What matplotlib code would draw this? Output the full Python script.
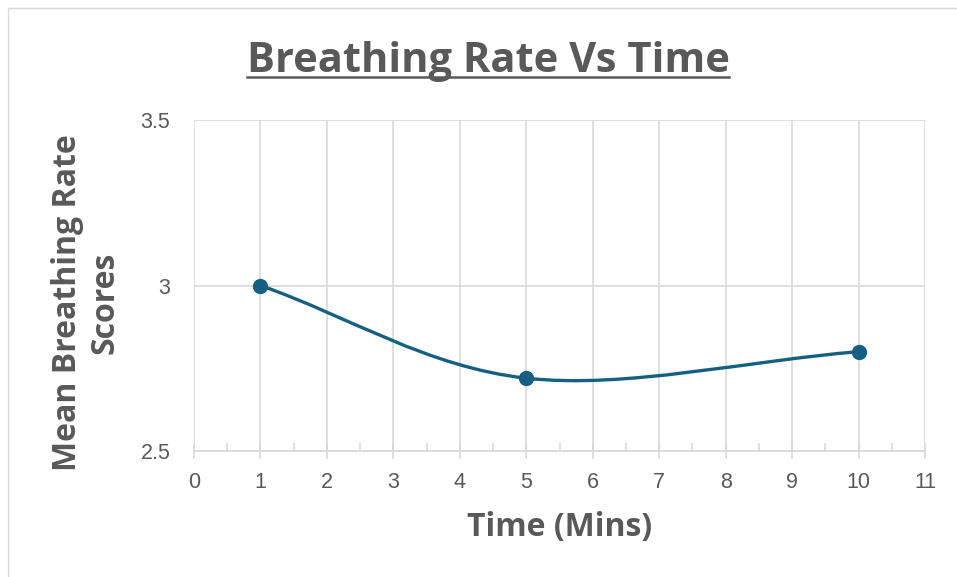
import matplotlib.pyplot as plt
from matplotlib.path import Path
from matplotlib.patches import PathPatch, Rectangle
from matplotlib.lines import Line2D

plt.rcParams['font.family'] = ['Open Sans', 'DejaVu Sans']

# mean breathing rate scores at each time point
time_mins = [1, 5, 10]
breathing_rate = [3.0, 2.72, 2.8]

line_col = '#156082'
text_col = '#595959'
grid_col = '#d9d9d9'


def smooth_path(xs, ys):
    # Catmull-Rom style bezier segments through the points (like a smoothed scatter line)
    pts = list(zip(xs, ys))
    n = len(pts)
    verts = [pts[0]]
    codes = [Path.MOVETO]
    for i in range(n - 1):
        p0 = pts[i - 1] if i > 0 else pts[i]
        p1 = pts[i]
        p2 = pts[i + 1]
        p3 = pts[i + 2] if i + 2 < n else pts[i + 1]
        if i == 0:
            t1 = (p2[0] - p1[0], p2[1] - p1[1])
        else:
            t1 = ((p2[0] - p0[0]) / 2, (p2[1] - p0[1]) / 2)
        if i + 2 >= n:
            t2 = (p2[0] - p1[0], p2[1] - p1[1])
        else:
            t2 = ((p3[0] - p1[0]) / 2, (p3[1] - p1[1]) / 2)
        c1 = (p1[0] + t1[0] / 3, p1[1] + t1[1] / 3)
        c2 = (p2[0] - t2[0] / 3, p2[1] - t2[1] / 3)
        verts += [c1, c2, p2]
        codes += [Path.CURVE4] * 3
    return Path(verts, codes)


fig = plt.figure(figsize=(9.57, 5.77), dpi=100)
ax = fig.add_axes([194 / 957, 1 - 451 / 577, (925 - 194) / 957, (451 - 120) / 577])

ax.set_xlim(0, 11)
ax.set_ylim(2.5, 3.5)
ax.set_xticks(range(0, 12))
ax.set_xticks([i + 0.5 for i in range(11)], minor=True)
ax.set_yticks([2.5, 3, 3.5])
ax.set_yticklabels(['2.5', '3', '3.5'])

for s in ['top', 'right', 'left']:
    ax.spines[s].set_visible(False)
ax.spines['bottom'].set_color(grid_col)
ax.spines['bottom'].set_linewidth(1.2)

ax.grid(True, which='major', color=grid_col, linewidth=1.2)
ax.set_axisbelow(True)
ax.tick_params(axis='x', which='major', direction='inout', length=12, width=1.2,
               color=grid_col, labelcolor=text_col, labelsize=15.5, pad=9)
ax.tick_params(axis='x', which='minor', direction='in', length=6, width=1.2, color=grid_col)
ax.tick_params(axis='y', length=0, labelcolor=text_col, labelsize=15.5, pad=17)
for lbl in ax.get_xticklabels() + ax.get_yticklabels():
    lbl.set_family(['Liberation Sans', 'DejaVu Sans'])

ax.add_patch(PathPatch(smooth_path(time_mins, breathing_rate), facecolor='none',
                       edgecolor=line_col, linewidth=2.4, capstyle='round', zorder=3))
ax.plot(time_mins, breathing_rate, 'o', color=line_col, markersize=10, zorder=4)

ax.set_xlabel('Time (Mins)', fontsize=23, fontweight='bold', color=text_col, labelpad=13)
fig.text(86 / 957, 1 - 303 / 577, 'Mean Breathing Rate\nScores', rotation=90,
         ha='center', va='center', multialignment='center', fontsize=23,
         fontweight='bold', color=text_col, linespacing=1.2)

title = fig.text(488 / 957, 1 - 72 / 577, 'Breathing Rate Vs Time', ha='center', va='baseline',
                 fontsize=30, fontweight='bold', color=text_col)

# underline the title
fig.canvas.draw()
bb = title.get_window_extent().transformed(fig.transFigure.inverted())
uy = 1 - 77 / 577
fig.add_artist(Line2D([bb.x0, bb.x1], [uy, uy], color=text_col, linewidth=1.8,
                      transform=fig.transFigure))

# chart frame
fig.add_artist(Rectangle((8 / 957, -0.05), 1.05, 1.05 - 8 / 577, transform=fig.transFigure,
                         fill=False, edgecolor='#d9d9d9', linewidth=1))

fig.savefig('out.png', dpi=100)
